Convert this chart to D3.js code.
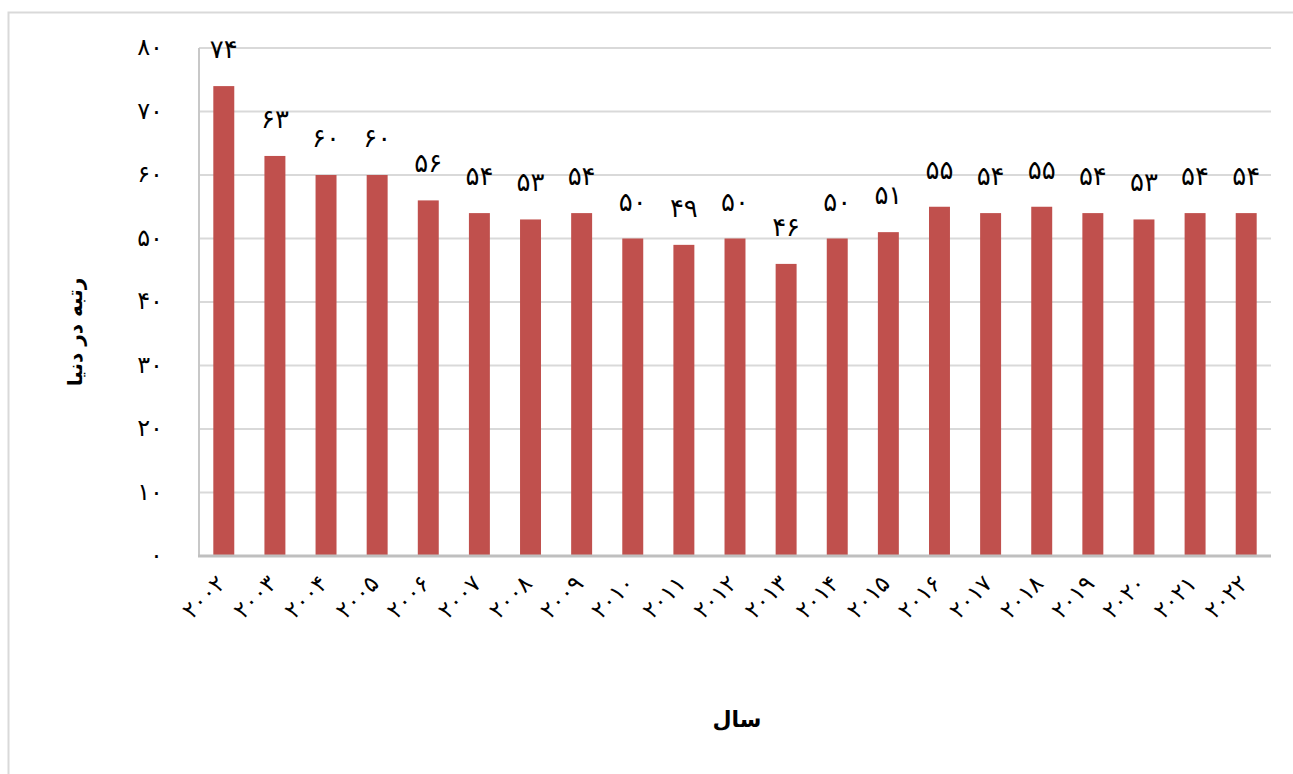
<!DOCTYPE html>
<html>
<head>
<meta charset="utf-8">
<script src="https://cdn.jsdelivr.net/npm/d3@7"></script>
<style>
  body { margin: 0; background: #fff; }
  text { font-family: "DejaVu Sans", sans-serif; fill: #000; }
</style>
</head>
<body>
<div id="chart"></div>
<script>
// data
const years = ["2002","2003","2004","2005","2006","2007","2008","2009","2010","2011","2012",
               "2013","2014","2015","2016","2017","2018","2019","2020","2021","2022"];
const ranks = [74, 63, 60, 60, 56, 54, 53, 54, 50, 49, 50, 46, 50, 51, 55, 54, 55, 54, 53, 54, 54];
const yTicks = [0, 10, 20, 30, 40, 50, 60, 70, 80];

const fa = s => String(s).replace(/[0-9]/g, d => "۰۱۲۳۴۵۶۷۸۹"[+d]);

const W = 1293, H = 774;
const plotL = 199, plotR = 1271, plotT = 48, plotB = 556;

const svg = d3.select("#chart").append("svg")
    .attr("width", W)
    .attr("height", H);

// outer chart border
svg.append("rect")
    .attr("x", 8.5).attr("y", 12.5)
    .attr("width", W).attr("height", H)
    .attr("fill", "none")
    .attr("stroke", "#d9d9d9")
    .attr("stroke-width", 2);

const x = d3.scaleBand().domain(years).range([plotL, plotR]).paddingInner(0.59).paddingOuter(0.28);
const y = d3.scaleLinear().domain([0, 80]).range([plotB, plotT]);

// gridlines
svg.append("g")
    .selectAll("line")
    .data(yTicks.filter(d => d > 0))
    .join("line")
    .attr("x1", plotL).attr("x2", plotR)
    .attr("y1", d => y(d)).attr("y2", d => y(d))
    .attr("stroke", "#d9d9d9")
    .attr("stroke-width", 2);

// y tick labels
svg.append("g")
    .selectAll("text")
    .data(yTicks)
    .join("text")
    .attr("x", 163)
    .attr("y", d => y(d) + 7)
    .attr("text-anchor", "end")
    .style("font-size", "24px")
    .text(d => fa(d));

// bars
svg.append("g")
    .selectAll("rect")
    .data(ranks)
    .join("rect")
    .attr("x", (d, i) => x(years[i]))
    .attr("y", d => y(d))
    .attr("width", x.bandwidth())
    .attr("height", d => plotB - y(d))
    .attr("fill", "#c0504d");

// value labels
svg.append("g")
    .selectAll("text")
    .data(ranks)
    .join("text")
    .attr("x", (d, i) => x(years[i]) + x.bandwidth() / 2)
    .attr("y", d => y(d) - 28)
    .attr("text-anchor", "middle")
    .style("font-size", "26px")
    .text(d => fa(d));

// axis lines
svg.append("line")
    .attr("x1", plotL).attr("x2", plotL)
    .attr("y1", plotT).attr("y2", plotB)
    .attr("stroke", "#c8c8c8").attr("stroke-width", 2);
svg.append("line")
    .attr("x1", plotL - 1).attr("x2", plotR)
    .attr("y1", plotB).attr("y2", plotB)
    .attr("stroke", "#bfbfbf").attr("stroke-width", 3);

// x tick labels, rotated
svg.append("g")
    .selectAll("text")
    .data(years)
    .join("text")
    .attr("transform", d => `translate(${x(d) + x.bandwidth() / 2 + 3},${585}) rotate(-45)`)
    .attr("text-anchor", "end")
    .style("font-size", "23px")
    .text(d => fa(d));

// axis titles
svg.append("text")
    .attr("transform", "translate(82,332) rotate(-90)")
    .attr("text-anchor", "middle")
    .style("font-size", "20px")
    .style("font-weight", "bold")
    .text("رتبه در دنیا");

svg.append("text")
    .attr("x", 737)
    .attr("y", 727)
    .attr("text-anchor", "middle")
    .style("font-size", "22px")
    .style("font-weight", "bold")
    .text("سال");
</script>
</body>
</html>
